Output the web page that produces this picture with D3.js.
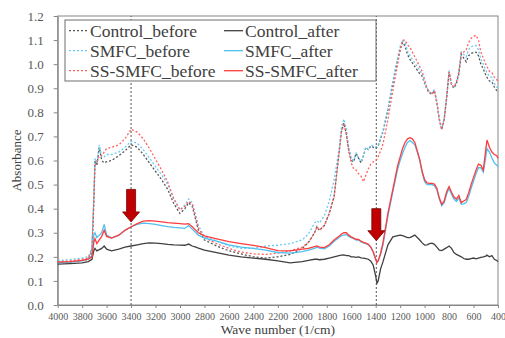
<!DOCTYPE html>
<html>
<head>
<meta charset="utf-8">
<script src="https://cdn.jsdelivr.net/npm/d3@7"></script>
<style>
  body { margin: 0; background: #fff; }
  svg { display: block; }
</style>
</head>
<body>
<svg id="chart" width="505" height="338"></svg>
<script>
// wavenumber grid (1/cm), shared by all six spectra
const wavenumbers = [4000, 3900, 3800, 3750, 3720, 3705, 3695, 3680, 3660, 3640, 3620, 3600, 3560, 3500, 3450, 3400, 3350, 3300, 3250, 3200,
  3150, 3100, 3050, 3000, 2960, 2930, 2900, 2870, 2850, 2800, 2700, 2600, 2500, 2400, 2300, 2200, 2100, 2000, 1950, 1900,
  1880, 1860, 1820, 1780, 1740, 1700, 1680, 1660, 1640, 1620, 1600, 1580, 1560, 1540, 1520, 1500, 1480, 1460, 1440, 1420,
  1400, 1390, 1380, 1360, 1340, 1300, 1260, 1220, 1200, 1180, 1160, 1140, 1120, 1100, 1080, 1060, 1040, 1020, 1000, 980,
  960, 940, 920, 900, 880, 860, 840, 820, 800, 780, 760, 740, 720, 700, 680, 660, 640, 620, 600, 580,
  560, 540, 520, 500, 490, 470, 450, 430, 410, 400]

const control_before = [0.175, 0.178, 0.185, 0.19, 0.22, 0.42, 0.6, 0.58, 0.655, 0.6, 0.59, 0.595, 0.6, 0.62, 0.64, 0.665, 0.655, 0.625, 0.59, 0.555,
  0.52, 0.48, 0.42, 0.38, 0.4, 0.425, 0.41, 0.35, 0.31, 0.27, 0.245, 0.225, 0.212, 0.2, 0.195, 0.2, 0.21, 0.235, 0.26, 0.3,
  0.325, 0.31, 0.33, 0.38, 0.45, 0.63, 0.72, 0.755, 0.71, 0.645, 0.6, 0.595, 0.63, 0.61, 0.59, 0.62, 0.655, 0.645, 0.66, 0.655,
  0.65, 0.655, 0.66, 0.69, 0.72, 0.81, 0.92, 1.02, 1.06, 1.09, 1.075, 1.04, 1.02, 1.005, 0.99, 0.975, 0.96, 0.95, 0.92, 0.895,
  0.88, 0.875, 0.89, 0.84, 0.77, 0.728, 0.77, 0.86, 0.968, 0.915, 0.9, 0.92, 0.96, 1.04, 1.025, 1.01, 1.035, 1.045, 1.048, 1.05,
  1.035, 1.0, 0.98, 0.955, 0.945, 0.93, 0.927, 0.905, 0.89, 0.885]

const smfc_before = [0.185, 0.188, 0.195, 0.2, 0.24, 0.45, 0.61, 0.59, 0.665, 0.615, 0.615, 0.625, 0.625, 0.635, 0.655, 0.68, 0.672, 0.645, 0.61, 0.575,
  0.54, 0.5, 0.44, 0.395, 0.415, 0.44, 0.425, 0.37, 0.33, 0.285, 0.265, 0.245, 0.235, 0.235, 0.245, 0.248, 0.255, 0.27, 0.295, 0.34,
  0.35, 0.34, 0.37, 0.43, 0.52, 0.645, 0.74, 0.772, 0.73, 0.655, 0.61, 0.6, 0.63, 0.61, 0.595, 0.62, 0.655, 0.645, 0.665, 0.66,
  0.655, 0.66, 0.665, 0.695, 0.725, 0.815, 0.93, 1.03, 1.075, 1.1, 1.09, 1.055, 1.035, 1.02, 1.005, 0.99, 0.975, 0.955, 0.925, 0.9,
  0.885, 0.88, 0.895, 0.845, 0.775, 0.733, 0.775, 0.865, 0.973, 0.92, 0.905, 0.925, 0.965, 1.05, 1.04, 1.03, 1.06, 1.073, 1.075, 1.078,
  1.06, 1.02, 1.0, 0.975, 0.965, 0.948, 0.945, 0.92, 0.905, 0.9]

const ss_smfc_before = [0.18, 0.183, 0.19, 0.195, 0.23, 0.43, 0.58, 0.59, 0.62, 0.62, 0.635, 0.65, 0.655, 0.665, 0.69, 0.73, 0.718, 0.69, 0.65, 0.605,
  0.56, 0.51, 0.44, 0.395, 0.41, 0.43, 0.42, 0.36, 0.32, 0.28, 0.255, 0.235, 0.22, 0.212, 0.21, 0.215, 0.225, 0.24, 0.26, 0.3,
  0.325, 0.31, 0.33, 0.38, 0.45, 0.63, 0.72, 0.755, 0.71, 0.635, 0.59, 0.565, 0.56, 0.545, 0.535, 0.512, 0.54, 0.565, 0.585, 0.595,
  0.6, 0.605, 0.615, 0.64, 0.67, 0.77, 0.89, 1.0, 1.06, 1.1, 1.1, 1.08, 1.07, 1.05, 1.03, 1.01, 0.99, 0.97, 0.935, 0.9,
  0.885, 0.875, 0.89, 0.84, 0.77, 0.728, 0.77, 0.86, 0.968, 0.915, 0.905, 0.925, 0.97, 1.05, 1.05, 1.06, 1.09, 1.107, 1.115, 1.12,
  1.1, 1.05, 1.025, 1.0, 0.99, 0.97, 0.965, 0.945, 0.935, 0.93]

const control_after = [0.17, 0.172, 0.175, 0.18, 0.19, 0.225, 0.235, 0.225, 0.23, 0.235, 0.245, 0.232, 0.225, 0.232, 0.24, 0.245, 0.25, 0.255, 0.258, 0.257,
  0.255, 0.252, 0.25, 0.249, 0.248, 0.253, 0.245, 0.24, 0.236, 0.228, 0.217, 0.207, 0.2, 0.195, 0.19, 0.183, 0.175, 0.18, 0.185, 0.19,
  0.19, 0.188, 0.19, 0.195, 0.2, 0.205, 0.207, 0.208, 0.205, 0.205, 0.2, 0.2, 0.198, 0.2, 0.196, 0.195, 0.193, 0.19, 0.182, 0.165,
  0.12, 0.09, 0.1, 0.15, 0.18, 0.25, 0.283, 0.288, 0.29, 0.288, 0.284, 0.28, 0.28, 0.285, 0.29, 0.28, 0.27, 0.258, 0.249, 0.25,
  0.255, 0.257, 0.252, 0.24, 0.228, 0.226, 0.232, 0.238, 0.245, 0.235, 0.218, 0.21, 0.205, 0.2, 0.193, 0.19, 0.19, 0.193, 0.195, 0.192,
  0.195, 0.198, 0.2, 0.203, 0.207, 0.2, 0.205, 0.19, 0.185, 0.18]

const smfc_after = [0.175, 0.178, 0.183, 0.19, 0.205, 0.29, 0.3, 0.28, 0.29, 0.3, 0.335, 0.29, 0.278, 0.29, 0.31, 0.325, 0.335, 0.34, 0.338, 0.335,
  0.33, 0.325, 0.322, 0.32, 0.318, 0.33, 0.315, 0.3, 0.29, 0.278, 0.265, 0.25, 0.24, 0.235, 0.228, 0.218, 0.215, 0.222, 0.228, 0.235,
  0.24, 0.236, 0.233, 0.245, 0.265, 0.28, 0.288, 0.29, 0.292, 0.285, 0.28, 0.275, 0.27, 0.27, 0.262, 0.258, 0.255, 0.25, 0.24, 0.22,
  0.19, 0.178, 0.185, 0.21, 0.25, 0.37, 0.47, 0.565, 0.6, 0.63, 0.655, 0.675, 0.683, 0.675, 0.665, 0.635, 0.6, 0.55, 0.512, 0.5,
  0.5, 0.5, 0.495, 0.478, 0.44, 0.412, 0.425, 0.46, 0.485, 0.46, 0.44, 0.43, 0.445, 0.418, 0.42, 0.425, 0.45, 0.485, 0.515, 0.545,
  0.57, 0.57, 0.552, 0.615, 0.65, 0.635, 0.61, 0.59, 0.58, 0.575]

const ss_smfc_after = [0.178, 0.18, 0.185, 0.19, 0.2, 0.26, 0.275, 0.255, 0.27, 0.285, 0.31, 0.285, 0.278, 0.29, 0.31, 0.325, 0.338, 0.348, 0.35, 0.348,
  0.345, 0.342, 0.34, 0.338, 0.336, 0.338, 0.325, 0.31, 0.3, 0.287, 0.275, 0.263, 0.255, 0.248, 0.238, 0.226, 0.225, 0.232, 0.235, 0.242,
  0.245, 0.24, 0.238, 0.25, 0.27, 0.285, 0.295, 0.3, 0.3, 0.29, 0.283, 0.278, 0.273, 0.272, 0.265, 0.26, 0.257, 0.252, 0.24, 0.22,
  0.19, 0.176, 0.183, 0.215, 0.26, 0.38, 0.48, 0.58, 0.615, 0.65, 0.675, 0.69, 0.695, 0.69, 0.675, 0.64, 0.605, 0.555, 0.52, 0.507,
  0.505, 0.505, 0.502, 0.485, 0.445, 0.418, 0.432, 0.47, 0.492, 0.468, 0.448, 0.44, 0.455, 0.425, 0.432, 0.438, 0.465, 0.5, 0.53, 0.56,
  0.585, 0.58, 0.56, 0.645, 0.685, 0.655, 0.635, 0.625, 0.62, 0.61]

const series_names = ["Control_before", "Control_after", "SMFC_before", "SMFC_after", "SS-SMFC_before", "SS-SMFC_after"]
const x_ticks = [4000, 3800, 3600, 3400, 3200, 3000, 2800, 2600, 2400, 2200, 2000, 1800, 1600, 1400, 1200, 1000, 800, 600, 400]
const y_ticks = [0.0, 0.1, 0.2, 0.3, 0.4, 0.5, 0.6, 0.7, 0.8, 0.9, 1.0, 1.1, 1.2]
// dotted guide lines and the two red arrows (x in 1/cm, y in absorbance)
const guide_lines = [3400, 1395]
const arrows = [
  {x: 3400, top: 0.48, tip: 0.345},
  {x: 1395, top: 0.40, tip: 0.267}
]

const font = "Liberation Serif"
const svg = d3.select("#chart")
const margin = {left: 57.7, right: 7, top: 16, bottom: 33}
const width = 505, height = 338

const x = d3.scaleLinear().domain([4000, 400]).range([margin.left, width - margin.right])
const y = d3.scaleLinear().domain([0, 1.2]).range([height - margin.bottom, margin.top])

const styles = {
  "Control_before": {color: "#555555", dash: "2,2"},
  "SMFC_before": {color: "#66ccf5", dash: "2,2"},
  "SS-SMFC_before": {color: "#ff6060", dash: "2,2"},
  "Control_after": {color: "#404040", dash: null},
  "SMFC_after": {color: "#4fc0ef", dash: null},
  "SS-SMFC_after": {color: "#ff3b3b", dash: null}
}
const values = {
  "Control_before": control_before,
  "SMFC_before": smfc_before,
  "SS-SMFC_before": ss_smfc_before,
  "Control_after": control_after,
  "SMFC_after": smfc_after,
  "SS-SMFC_after": ss_smfc_after
}

// axes
const xAxis = svg.append("g")
  .attr("transform", `translate(0,${y(0)})`)
  .call(d3.axisBottom(x).tickValues(x_ticks).tickSize(3).tickSizeOuter(0).tickFormat(d3.format("d")))
  .attr("font-family", font)
xAxis.selectAll("text")
  .attr("font-family", font).attr("font-size", 10).attr("fill", "#595959").attr("dy", "0.9em")
const yAxis = svg.append("g")
  .attr("transform", `translate(${x(4000)},0)`)
  .call(d3.axisLeft(y).tickValues(y_ticks).tickSize(4).tickSizeOuter(0).tickFormat(d3.format(".1f")))
  .attr("font-family", font)
yAxis.selectAll("text")
  .attr("font-family", font).attr("font-size", 13).attr("fill", "#595959").attr("x", -14)
svg.selectAll(".domain, .tick line").attr("stroke", "#868686")

// frame
svg.append("rect")
  .attr("x", x(4000)).attr("y", y(1.2))
  .attr("width", x(400) - x(4000)).attr("height", y(0) - y(1.2))
  .attr("fill", "none").attr("stroke", "#868686").attr("stroke-width", 1)

// guide lines
svg.selectAll(".guide")
  .data(guide_lines)
  .join("line")
  .attr("class", "guide")
  .attr("x1", d => x(d)).attr("x2", d => x(d))
  .attr("y1", y(0)).attr("y2", y(1.2))
  .attr("stroke", "#555").attr("stroke-width", 1).attr("stroke-dasharray", "2,2")

// spectra, dotted first
const line = d3.line().x((d, i) => x(wavenumbers[i])).y(d => y(d))
const draw_order = ["Control_before", "SMFC_before", "SS-SMFC_before", "Control_after", "SMFC_after", "SS-SMFC_after"]
svg.selectAll(".spectrum")
  .data(draw_order)
  .join("path")
  .attr("class", "spectrum")
  .attr("d", d => line(values[d]))
  .attr("fill", "none")
  .attr("stroke", d => styles[d].color)
  .attr("stroke-width", 1.3)
  .attr("stroke-dasharray", d => styles[d].dash)

// arrows
svg.selectAll(".arrow")
  .data(arrows)
  .join("path")
  .attr("class", "arrow")
  .attr("d", d => {
    const cx = x(d.x), t = y(d.top), tip = y(d.tip), hs = tip - 10
    return `M${cx - 4.5},${t} L${cx + 4.5},${t} L${cx + 4.5},${hs} L${cx + 8.5},${hs} L${cx},${tip} L${cx - 8.5},${hs} L${cx - 4.5},${hs} Z`
  })
  .attr("fill", "#c00000").attr("stroke", "#7a0000").attr("stroke-width", 0.8)

// legend
const legend = svg.append("g")
legend.append("rect")
  .attr("x", 65).attr("y", 20).attr("width", 311).attr("height", 61)
  .attr("fill", "#fff").attr("stroke", "#6e6e6e").attr("stroke-width", 1)
const cols = [69, 224]
const rows = [30.7, 50.7, 70.7]
const entries = legend.selectAll(".entry")
  .data(series_names)
  .join("g")
  .attr("class", "entry")
  .attr("transform", (d, i) => `translate(${cols[i % 2]},${rows[Math.floor(i / 2)]})`)
entries.append("line")
  .attr("x1", 0).attr("x2", 19).attr("y1", 0).attr("y2", 0)
  .attr("stroke", d => styles[d].color).attr("stroke-width", 1.3)
  .attr("stroke-dasharray", d => styles[d].dash)
entries.append("text")
  .attr("x", 21).attr("y", 0).attr("dy", "0.35em")
  .attr("font-family", font).attr("font-size", 17.5).attr("fill", "#404040")
  .text(d => d)

// axis titles
svg.append("text")
  .attr("x", (x(4000) + x(400)) / 2).attr("y", 334)
  .attr("text-anchor", "middle")
  .attr("font-family", font).attr("font-size", 13.5).attr("fill", "#404040")
  .text("Wave number (1/cm)")
svg.append("text")
  .attr("transform", `translate(21,${y(0.6)}) rotate(-90)`)
  .attr("text-anchor", "middle")
  .attr("font-family", font).attr("font-size", 13).attr("fill", "#404040")
  .text("Absorbance")
</script>
</body>
</html>
